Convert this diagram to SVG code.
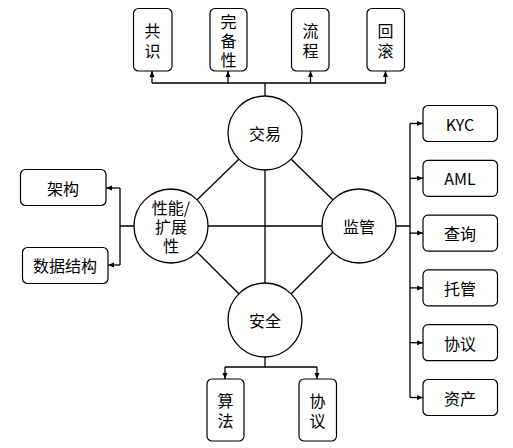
<svg xmlns="http://www.w3.org/2000/svg" width="513" height="448" viewBox="0 0 513 448">
<style>
.box{fill:#fff;stroke:#000;stroke-width:1.2}
.hub{fill:#fff;stroke:#000;stroke-width:1.3}
.t{font-family:"Noto Sans CJK SC","Noto Sans",sans-serif;font-size:16px;fill:#000;text-anchor:middle;dominant-baseline:central}
.c{fill:none;stroke:#000;stroke-width:1.3}
.a{fill:none;stroke:#000;stroke-width:1.3;marker-end:url(#arr)}
</style>
<defs>
<marker id="arr" markerUnits="userSpaceOnUse" markerWidth="8" markerHeight="8" viewBox="0 0 8 8" refX="7" refY="4" orient="auto">
<path d="M1,1.5 L7,4 L1,6.5 Z" fill="#000"/>
</marker>
</defs>
<rect width="513" height="448" fill="#fff"/>
<g id="connectors">
<line class="c" x1="265" y1="170" x2="265" y2="283"/>
<line class="c" x1="208" y1="226" x2="322" y2="226"/>
<line class="c" x1="238.8" y1="159.2" x2="197.2" y2="199.8"/>
<line class="c" x1="291.2" y1="159.2" x2="332.8" y2="199.8"/>
<line class="c" x1="197.2" y1="252.2" x2="238.8" y2="293.8"/>
<line class="c" x1="332.8" y1="252.2" x2="291.2" y2="293.8"/>
<path class="c" d="M265,96 V83 M152,83 H386"/>
<path class="a" d="M152,83 V71"/>
<path class="a" d="M228,83 V71"/>
<path class="a" d="M310.5,83 V71"/>
<path class="a" d="M385.5,83 V71"/>
<path class="c" d="M134,226 H120 M120,188 V265"/>
<path class="a" d="M120,188 H106"/>
<path class="a" d="M120,265 H108"/>
<path class="c" d="M396,226 H410 M410,123.5 V397.5"/>
<path class="a" d="M410,123.5 H423"/>
<path class="a" d="M410,178.3 H423"/>
<path class="a" d="M410,233.1 H423"/>
<path class="a" d="M410,287.9 H423"/>
<path class="a" d="M410,342.7 H423"/>
<path class="a" d="M410,397.5 H423"/>
<path class="c" d="M265,357 V367 M225,367 H317"/>
<path class="a" d="M225,367 V379"/>
<path class="a" d="M317,367 V379"/>
</g>
<g id="n-jiaoyi"><circle class="hub" cx="265" cy="133" r="37"/><text class="t" x="265" y="133">交易</text></g>
<g id="n-xingneng"><circle class="hub" cx="171" cy="226" r="37"/><text class="t" x="171" y="207">性能/</text><text class="t" x="171" y="226">扩展</text><text class="t" x="171" y="245">性</text></g>
<g id="n-jianguan"><circle class="hub" cx="359" cy="226" r="37"/><text class="t" x="359" y="226">监管</text></g>
<g id="n-anquan"><circle class="hub" cx="265" cy="320" r="37"/><text class="t" x="265" y="320">安全</text></g>
<g id="n-gongshi"><rect class="box" x="133.5" y="8.5" width="38.5" height="62.5" rx="5"/><text class="t" x="152.5" y="30">共</text><text class="t" x="152.5" y="50">识</text></g>
<g id="n-wanbei"><rect class="box" x="210" y="8.5" width="37" height="62.5" rx="5"/><text class="t" x="228.5" y="21">完</text><text class="t" x="228.5" y="40">备</text><text class="t" x="228.5" y="59">性</text></g>
<g id="n-liucheng"><rect class="box" x="291.5" y="8.5" width="37.5" height="62.5" rx="5"/><text class="t" x="310.5" y="30">流</text><text class="t" x="310.5" y="50">程</text></g>
<g id="n-huigun"><rect class="box" x="367" y="8.5" width="37.5" height="62.5" rx="5"/><text class="t" x="385.5" y="30">回</text><text class="t" x="385.5" y="50">滚</text></g>
<g id="n-jiagou"><rect class="box" x="20.5" y="169.5" width="85.5" height="36" rx="5"/><text class="t" x="63" y="188">架构</text></g>
<g id="n-shuju"><rect class="box" x="22.5" y="247.5" width="85.5" height="36" rx="5"/><text class="t" x="65" y="265">数据结构</text></g>
<g id="n-kyc"><rect class="box" x="423" y="105.5" width="74.5" height="36" rx="5"/><text class="t" x="460" y="123.5">KYC</text></g>
<g id="n-aml"><rect class="box" x="423" y="160.3" width="74.5" height="36" rx="5"/><text class="t" x="460" y="178.3">AML</text></g>
<g id="n-chaxun"><rect class="box" x="423" y="215.1" width="74.5" height="36" rx="5"/><text class="t" x="460" y="233.1">查询</text></g>
<g id="n-tuoguan"><rect class="box" x="423" y="269.9" width="74.5" height="36" rx="5"/><text class="t" x="460" y="287.9">托管</text></g>
<g id="n-xieyi1"><rect class="box" x="423" y="324.7" width="74.5" height="36" rx="5"/><text class="t" x="460" y="342.7">协议</text></g>
<g id="n-zichan"><rect class="box" x="423" y="379.5" width="74.5" height="36" rx="5"/><text class="t" x="460" y="397.5">资产</text></g>
<g id="n-suanfa"><rect class="box" x="207" y="379" width="37" height="62" rx="5"/><text class="t" x="225.5" y="400">算</text><text class="t" x="225.5" y="420">法</text></g>
<g id="n-xieyi2"><rect class="box" x="299" y="379" width="37.5" height="62" rx="5"/><text class="t" x="317.5" y="400">协</text><text class="t" x="317.5" y="420">议</text></g>
</svg>
